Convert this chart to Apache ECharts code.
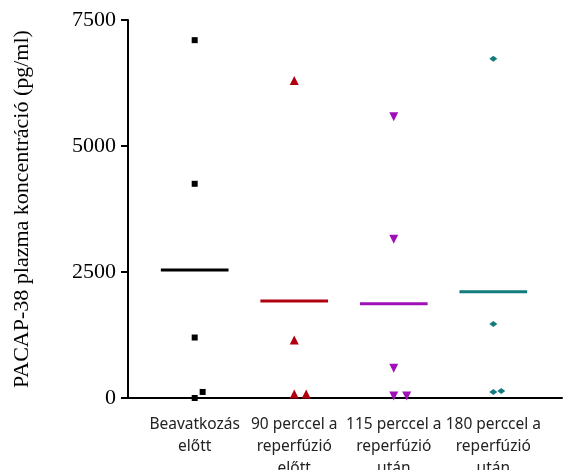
<!DOCTYPE html>
<html>
<head>
<meta charset="utf-8">
<script src="https://cdn.jsdelivr.net/npm/echarts@6/dist/echarts.min.js"></script>
<style>
  html, body { margin: 0; padding: 0; background: #fff; }
  #chart { width: 574px; height: 470px; }
</style>
</head>
<body>
<div id="chart"></div>
<script>
// csoportok (x tengely)
const groups = ['Beavatkozás\nelőtt', '90 perccel a\nreperfúzió\nelőtt', '115 perccel a\nreperfúzió\nután', '180 perccel a\nreperfúzió\nután']

// egyedi mérések: [csoport pozíció + kis eltolás, érték]
const beforeVals = [[1, 7100], [1, 4250], [1, 1200], [1.08, 120], [1, 0]]
const min90Vals = [[2, 6300], [2, 1150], [2, 80], [2.12, 80]]
const min115Vals = [[3, 5580], [3, 3150], [3, 590], [3, 40], [3.13, 40]]
const min180Vals = [[4, 6730], [4, 1470], [4, 120], [4.08, 140]]

// átlagok
const means = [2540, 1925, 1870, 2110]

const colors = ['#000000', '#b0000f', '#a010b8', '#137b7b']
const symbols = ['rect', 'triangle', 'path://M0,0 L10,0 L5,9 Z', 'diamond']
const sizes = [6, 9, 9, [8, 6]]
const pointSets = [beforeVals, min90Vals, min115Vals, min180Vals]
const HALF = 0.34

const chart = echarts.init(document.getElementById('chart'))

const series = []
pointSets.forEach((pts, i) => {
  series.push({
    type: 'line',
    data: [[i + 1 - HALF, means[i]], [i + 1 + HALF, means[i]]],
    symbol: 'none',
    lineStyle: { color: colors[i], width: 3 },
    z: 2,
  })
  series.push({
    type: 'scatter',
    data: pts,
    symbol: symbols[i],
    symbolSize: sizes[i],
    itemStyle: { color: colors[i], opacity: 1 },
    z: 3,
  })
})

chart.setOption({
  animation: false,
  grid: { left: 128, right: 12, top: 20, bottom: 72, containLabel: false, outerBoundsMode: 'none' },
  xAxis: {
    type: 'value',
    min: 0.33,
    max: 4.69,
    splitLine: { show: false },
    axisTick: { show: false },
    axisLine: { onZero: false, lineStyle: { color: '#000', width: 2 } },
    axisLabel: {
      customValues: [1, 2, 3, 4],
      formatter: (v) => groups[Math.round(v) - 1] || '',
      color: '#222',
      fontFamily: 'Noto Sans',
      fontSize: 15.5,
      lineHeight: 22,
      margin: 16,
    },
  },
  yAxis: {
    type: 'value',
    min: 0,
    max: 7500,
    interval: 2500,
    name: 'PACAP-38 plazma koncentráció (pg/ml)',
    nameLocation: 'middle',
    nameGap: 95,
    nameTextStyle: { fontFamily: 'Liberation Serif', fontSize: 22, color: '#000' },
    splitLine: { show: false },
    axisLine: { show: true, lineStyle: { color: '#000', width: 2 } },
    axisTick: { show: true, length: 7, lineStyle: { color: '#000', width: 2 } },
    axisLabel: {
      fontFamily: 'Liberation Serif',
      fontSize: 22,
      color: '#000',
      margin: 12,
      formatter: (v) => String(v),
    },
  },
  series,
})
</script>
</body>
</html>
